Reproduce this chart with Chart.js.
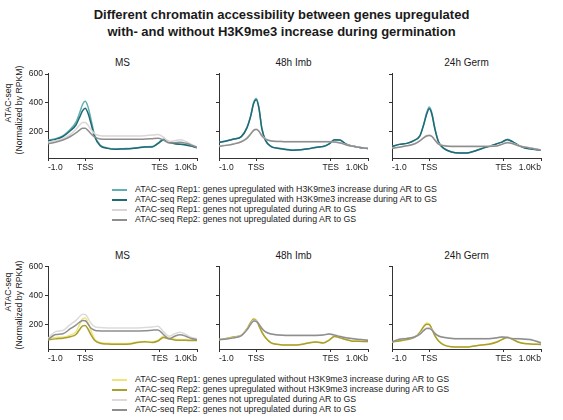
<!DOCTYPE html>
<html>
<head>
<meta charset="utf-8">
<script src="https://cdn.jsdelivr.net/npm/chart.js@4.4.0/dist/chart.umd.min.js"></script>
<style>
  body { margin: 0; background: #fff; font-family: "Liberation Sans", Arial, sans-serif; color: #1a1a1a; }
  #page { position: relative; width: 563px; height: 420px; overflow: hidden; }
  #page canvas { position: absolute; }
  .title { position: absolute; left: 0; width: 563px; text-align: center; font-weight: bold; font-size: 13px; line-height: 17px; }
  .ptitle { position: absolute; width: 149px; text-align: center; font-size: 10px; line-height: 10px; }
  .ylab { position: absolute; font-size: 8.7px; line-height: 9px; white-space: nowrap; transform: translate(-50%, -50%) rotate(-90deg); }
  .leg { position: absolute; font-size: 8.8px; line-height: 9px; white-space: nowrap; color: #222; }
  .sw { position: absolute; width: 15px; height: 2px; }
</style>
</head>
<body>
<div id="page">
  <div class="title" style="top:6px">Different chromatin accessibility between genes upregulated<br>with- and without H3K9me3 increase during germination</div>
</div>
<script>
// x positions of the profile bins: -1 = 1 kb upstream, 0 = TSS, 2 = TES, 3 = 1 kb downstream
const positions = [-1.0, -0.8, -0.6, -0.4, -0.25, -0.15, -0.07, 0.0, 0.07, 0.15, 0.25, 0.4, 0.6, 0.8, 1.0, 1.2, 1.4, 1.6, 1.8, 1.95, 2.1, 2.25, 2.4, 2.55, 2.7, 2.85, 3.0];
const tickPositions = [-1, 0, 2, 3];
const tickLabels = ['-1.0', 'TSS', 'TES', '1.0Kb'];
const yTicks = [200, 400, 600];
const stages = ['MS', '48h Imb', '24h Germ'];

const topLegend = [
  'ATAC-seq Rep1: genes upregulated with H3K9me3 increase during AR to GS',
  'ATAC-seq Rep2: genes upregulated with H3K9me3 increase during AR to GS',
  'ATAC-seq Rep1: genes not upregulated during AR to GS',
  'ATAC-seq Rep2: genes not upregulated during AR to GS'
];
const bottomLegend = [
  'ATAC-seq Rep1: genes upregulated without H3K9me3 increase during AR to GS',
  'ATAC-seq Rep2: genes upregulated without H3K9me3 increase during AR to GS',
  'ATAC-seq Rep1: genes not upregulated during AR to GS',
  'ATAC-seq Rep2: genes not upregulated during AR to GS'
];
const topColors = ['#62afb4', '#1f6a74', '#dcd5d5', '#8e8e8e'];
const bottomColors = ['#ede67c', '#a99f2e', '#dedada', '#8e8e8e'];

// top row: genes upregulated WITH H3K9me3 increase vs not upregulated
const msWithRep1   = [140, 150, 170, 215, 265, 330, 390, 410, 375, 290, 175, 105, 85, 78, 80, 82, 86, 94, 95, 118, 148, 128, 118, 112, 108, 100, 88];
const msWithRep2   = [135, 145, 165, 205, 245, 300, 345, 362, 330, 260, 165, 100, 82, 76, 78, 80, 84, 92, 92, 115, 140, 125, 115, 110, 105, 98, 86];
const msNotARep1   = [125, 135, 150, 180, 215, 245, 262, 262, 245, 215, 185, 170, 168, 168, 168, 168, 168, 170, 175, 178, 160, 130, 135, 142, 130, 110, 92];
const msNotARep2   = [115, 125, 140, 165, 190, 210, 222, 222, 208, 185, 162, 148, 145, 145, 145, 145, 145, 147, 150, 152, 140, 120, 122, 125, 118, 105, 90];
const imbWithRep1  = [125, 135, 148, 165, 228, 310, 402, 430, 370, 223, 138, 96, 83, 76, 70, 73, 80, 90, 96, 113, 140, 138, 112, 100, 93, 86, 82];
const imbWithRep2  = [124, 134, 147, 164, 225, 305, 395, 422, 365, 220, 136, 95, 82, 75, 69, 72, 79, 89, 95, 112, 142, 140, 113, 100, 93, 86, 82];
const imbNotARep1  = [98, 105, 115, 130, 155, 185, 212, 218, 205, 172, 148, 135, 132, 130, 130, 130, 130, 130, 130, 130, 128, 122, 110, 100, 93, 88, 83];
const imbNotARep2  = [96, 103, 113, 128, 152, 182, 208, 214, 202, 170, 146, 133, 130, 128, 128, 128, 128, 128, 128, 128, 126, 120, 108, 99, 92, 87, 82];
const germWithRep1 = [96, 110, 117, 138, 172, 251, 330, 370, 330, 225, 128, 80, 57, 50, 50, 62, 80, 96, 113, 126, 145, 128, 103, 87, 80, 74, 70];
const germWithRep2 = [96, 110, 117, 138, 170, 245, 320, 358, 320, 218, 126, 80, 57, 50, 50, 62, 80, 96, 113, 126, 143, 126, 103, 87, 80, 74, 70];
const germNotARep1 = [85, 92, 102, 115, 138, 158, 172, 176, 168, 142, 114, 102, 98, 98, 98, 98, 98, 98, 100, 112, 124, 116, 102, 94, 87, 80, 72];
const germNotARep2 = [83, 90, 100, 113, 135, 155, 168, 172, 165, 140, 112, 100, 96, 96, 96, 96, 96, 96, 98, 110, 122, 115, 100, 92, 85, 78, 70];

// bottom row: genes upregulated WITHOUT H3K9me3 increase vs not upregulated
const msWithoutRep1  = [100, 110, 112, 125, 150, 200, 240, 245, 215, 160, 100, 75, 70, 68, 68, 70, 78, 82, 80, 90, 118, 108, 98, 95, 95, 92, 92];
const msWithoutRep2  = [92, 100, 105, 115, 130, 165, 190, 193, 170, 130, 90, 70, 64, 62, 62, 65, 75, 80, 75, 85, 110, 100, 92, 90, 90, 88, 88];
const msNotBRep1     = [103, 150, 158, 200, 228, 255, 270, 268, 245, 210, 185, 178, 176, 176, 175, 175, 176, 178, 182, 188, 150, 118, 135, 145, 130, 110, 102];
const msNotBRep2     = [95, 130, 135, 170, 195, 215, 227, 225, 205, 175, 160, 155, 154, 154, 154, 154, 155, 156, 160, 162, 130, 100, 118, 128, 118, 102, 95];
const imbWithoutRep1 = [96, 103, 114, 125, 171, 216, 240, 230, 195, 150, 110, 73, 62, 58, 58, 62, 73, 80, 73, 91, 118, 110, 96, 87, 85, 83, 82];
const imbWithoutRep2 = [95, 102, 113, 124, 168, 212, 236, 226, 192, 147, 108, 72, 61, 57, 57, 61, 72, 79, 72, 90, 116, 108, 95, 86, 84, 82, 81];
const imbNotBRep1    = [96, 100, 108, 125, 165, 205, 228, 225, 205, 175, 150, 135, 128, 126, 126, 126, 126, 126, 128, 135, 128, 118, 110, 105, 100, 96, 92];
const imbNotBRep2    = [95, 99, 107, 123, 162, 201, 224, 222, 202, 172, 148, 133, 126, 124, 124, 124, 124, 124, 126, 133, 126, 116, 108, 103, 98, 94, 90];
const germWithoutRep1 = [80, 87, 96, 111, 148, 190, 210, 205, 172, 125, 87, 58, 46, 44, 44, 51, 58, 64, 78, 96, 111, 96, 78, 69, 66, 64, 62];
const germWithoutRep2 = [79, 86, 95, 110, 145, 184, 201, 198, 168, 122, 86, 57, 45, 43, 43, 50, 57, 63, 77, 95, 110, 95, 77, 68, 65, 63, 61];
const germNotBRep1   = [80, 100, 105, 115, 135, 160, 175, 175, 165, 140, 122, 112, 105, 103, 103, 103, 103, 103, 108, 115, 112, 102, 102, 100, 97, 87, 74];
const germNotBRep2   = [78, 98, 103, 113, 133, 157, 172, 172, 162, 138, 120, 110, 103, 101, 101, 101, 101, 101, 106, 113, 110, 100, 100, 98, 95, 85, 72];

const rows = [
  { top: 72, height: 86, ymin: 15, ymax: 607, colors: topColors, legend: topLegend, legendTop: 185,
    ylabA: 103, ylabB: 110,
    series: [[msWithRep1, msWithRep2, msNotARep1, msNotARep2],
             [imbWithRep1, imbWithRep2, imbNotARep1, imbNotARep2],
             [germWithRep1, germWithRep2, germNotARep1, germNotARep2]] },
  { top: 265, height: 84, ymin: 30, ymax: 603, colors: bottomColors, legend: bottomLegend, legendTop: 375,
    ylabA: 292, ylabB: 305,
    series: [[msWithoutRep1, msWithoutRep2, msNotBRep1, msNotBRep2],
             [imbWithoutRep1, imbWithoutRep2, imbNotBRep1, imbNotBRep2],
             [germWithoutRep1, germWithoutRep2, germNotBRep1, germNotBRep2]] }
];
const panelLeft = [48, 219, 392];
const plotW = 149;
const yAxisW = 30, xAxisH = 16, padTop = 6, padRight = 8;
const fontFamily = '"Liberation Sans", Arial, sans-serif';
const page = document.getElementById('page');

function addDiv(cls, style, text) {
  const d = document.createElement('div');
  d.className = cls;
  Object.assign(d.style, style);
  if (text) d.textContent = text;
  page.appendChild(d);
  return d;
}

rows.forEach((row, r) => {
  // y axis label
  addDiv('ylab', { left: '8px', top: row.ylabA + 'px' }, 'ATAC-seq');
  addDiv('ylab', { left: '19px', top: row.ylabB + 'px' }, '(Normalized by RPKM)');

  stages.forEach((stage, c) => {
    addDiv('ptitle', { left: panelLeft[c] + 'px', top: (row.top - 14) + 'px' }, stage);

    const canvas = document.createElement('canvas');
    canvas.width = yAxisW + plotW + padRight;
    canvas.height = padTop + row.height + xAxisH;
    canvas.style.left = (panelLeft[c] - yAxisW) + 'px';
    canvas.style.top = (row.top - padTop) + 'px';
    page.appendChild(canvas);

    const datasets = row.series[c].map((vals, k) => ({
      data: vals.map((v, i) => ({ x: positions[i], y: v })),
      borderColor: row.colors[k],
      borderWidth: 1.5,
      pointRadius: 0,
      cubicInterpolationMode: 'monotone',
      fill: false,
      order: 4 - k
    }));

    new Chart(canvas.getContext('2d'), {
      type: 'line',
      data: { datasets },
      options: {
        responsive: false,
        animation: false,
        layout: { padding: { top: padTop, right: padRight, left: 0, bottom: 0 } },
        plugins: { legend: { display: false }, tooltip: { enabled: false } },
        scales: {
          x: {
            type: 'linear', min: -1, max: 3,
            afterBuildTicks: s => { s.ticks = tickPositions.map(v => ({ value: v })); },
            afterFit: s => { s.height = xAxisH; },
            ticks: { align: 'inner', autoSkip: false, maxRotation: 0, padding: 2, color: '#1a1a1a',
                     font: { size: 8.5, family: fontFamily },
                     callback: (v, i) => tickLabels[i] },
            grid: { drawOnChartArea: false, drawTicks: true, tickLength: 3, color: '#333' },
            border: { display: true, color: '#333', width: 1 }
          },
          y: {
            min: row.ymin, max: row.ymax,
            afterBuildTicks: s => { s.ticks = yTicks.map(v => ({ value: v })); },
            afterFit: s => { s.width = yAxisW; },
            ticks: { padding: 2, color: '#1a1a1a', font: { size: 8.5, family: fontFamily },
                     callback: v => (c === 0 ? String(v) : '') },
            grid: { drawOnChartArea: false, drawTicks: true, tickLength: 3, color: '#333' },
            border: { display: true, color: '#333', width: 1 }
          }
        }
      }
    });
  });

  // legend
  row.legend.forEach((label, k) => {
    const y = row.legendTop + k * 10;
    addDiv('sw', { left: '112px', top: (y + 3.5) + 'px', background: row.colors[k] });
    addDiv('leg', { left: '135px', top: y + 'px' }, label);
  });
});
</script>
</body>
</html>
